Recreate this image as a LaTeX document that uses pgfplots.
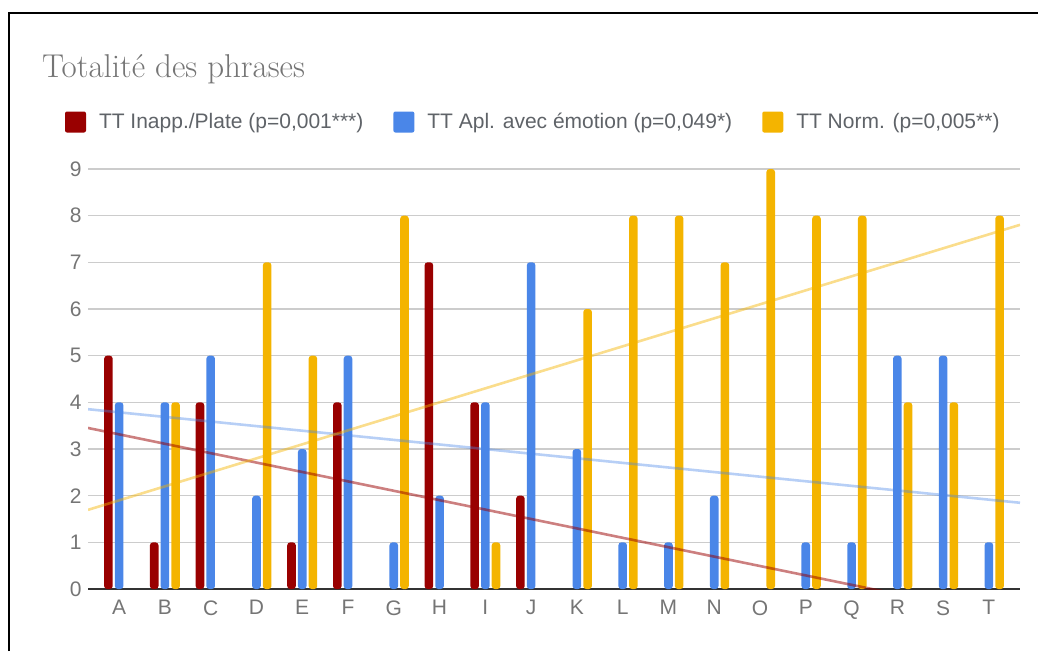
\documentclass[border=0pt]{standalone}
\usepackage{fontspec}
\setsansfont{Liberation Sans}
\usepackage{pgfplots}
\pgfplotsset{compat=1.18}
\definecolor{cred}{HTML}{990000}
\definecolor{cblue}{HTML}{4A86E8}
\definecolor{cyel}{HTML}{F4B400}
\definecolor{tgrey}{HTML}{757575}
\definecolor{lgrey}{HTML}{5F6368}
\definecolor{gridc}{HTML}{CCCCCC}
\begin{document}
\begin{tikzpicture}
\path[use as bounding box] (0pt,0pt) rectangle (1038pt,-651pt);
\draw[line width=2pt, black] (9pt,-651pt) -- (9pt,-13pt) -- (1038pt,-13pt);
\node[anchor=base west, inner sep=0pt, text=tgrey, font=\rmfamily\fontsize{33}{33}\selectfont] at (42pt,-77pt) {Totalité des phrases};
\begin{axis}[
  at={(88pt,-589pt)}, anchor=south west,
  scale only axis, width=932pt, height=420pt,
  xmin=-0.68, xmax=19.68, ymin=0, ymax=9,
  separate axis lines,
  axis x line*=bottom, axis y line*=left,
  x axis line style={draw=black!80, line width=1.5pt, -},
  y axis line style={draw=none},
  ymajorgrids, major grid style={draw=gridc, line width=1.2pt},
  major tick length=0pt,
  ytick={0,1,2,3,4,5,6,7,8,9},
  xtick={0,1,2,3,4,5,6,7,8,9,10,11,12,13,14,15,16,17,18,19},
  xticklabels={A,B,C,D,E,F,G,H,I,J,K,L,M,N,O,P,Q,R,S,T},
  /pgf/number format/assume math mode=true,
  tick label style={font=\sffamily\fontsize{21}{21}\selectfont, text=tgrey},
  yticklabel style={xshift=-3pt},
  xticklabel style={yshift=-8pt},
  legend columns=3,
  legend image code/.code={
    \fill[rounded corners=2pt] (0pt,-10.5pt) rectangle (21pt,10.5pt);
    \path (34pt,0pt);
  },
  legend style={
    at={(axis description cs:0,1)}, anchor=west,
    xshift=-23pt, yshift=47pt,
    draw=none, fill=none, inner sep=0pt, outer sep=0pt,
    nodes={inner sep=0pt, text=lgrey},
    font=\sffamily\fontsize{21}{21}\selectfont,
    /tikz/every even column/.append style={column sep=30pt},
  },
  legend cell align=left,
]
% bars (zero values not drawn)
\addplot[ybar, bar width=8.6pt, bar shift=-10.7pt, fill=cred, draw=none, rounded corners=3pt]
  coordinates {(0,5)(1,1)(2,4)(4,1)(5,4)(7,7)(8,4)(9,2)};
\addplot[ybar, bar width=8.6pt, bar shift=0pt, fill=cblue, draw=none, rounded corners=3pt]
  coordinates {(0,4)(1,4)(2,5)(3,2)(4,3)(5,5)(6,1)(7,2)(8,4)(9,7)(10,3)(11,1)(12,1)(13,2)(15,1)(16,1)(17,5)(18,5)(19,1)};
\addplot[ybar, bar width=8.6pt, bar shift=10.7pt, fill=cyel, draw=none, rounded corners=3pt]
  coordinates {(1,4)(3,7)(4,5)(6,8)(8,1)(10,6)(11,8)(12,8)(13,7)(14,9)(15,8)(16,8)(17,4)(18,4)(19,8)};
\legend{{TT Inapp./Plate (p=0,001***)}, {TT Apl. avec émotion (p=0,049*)}, {TT Norm. (p=0,005**)}}
% linear trendlines (end points)
\addplot[cred, opacity=0.5, line width=2.6pt, forget plot] coordinates {(-0.68,3.451)(19.68,-0.652)};
\addplot[cblue, opacity=0.4, line width=2.6pt, forget plot] coordinates {(-0.68,3.853)(19.68,1.848)};
\addplot[cyel, opacity=0.45, line width=2.6pt, forget plot] coordinates {(-0.68,1.696)(19.68,7.804)};
\end{axis}
\end{tikzpicture}
\end{document}
